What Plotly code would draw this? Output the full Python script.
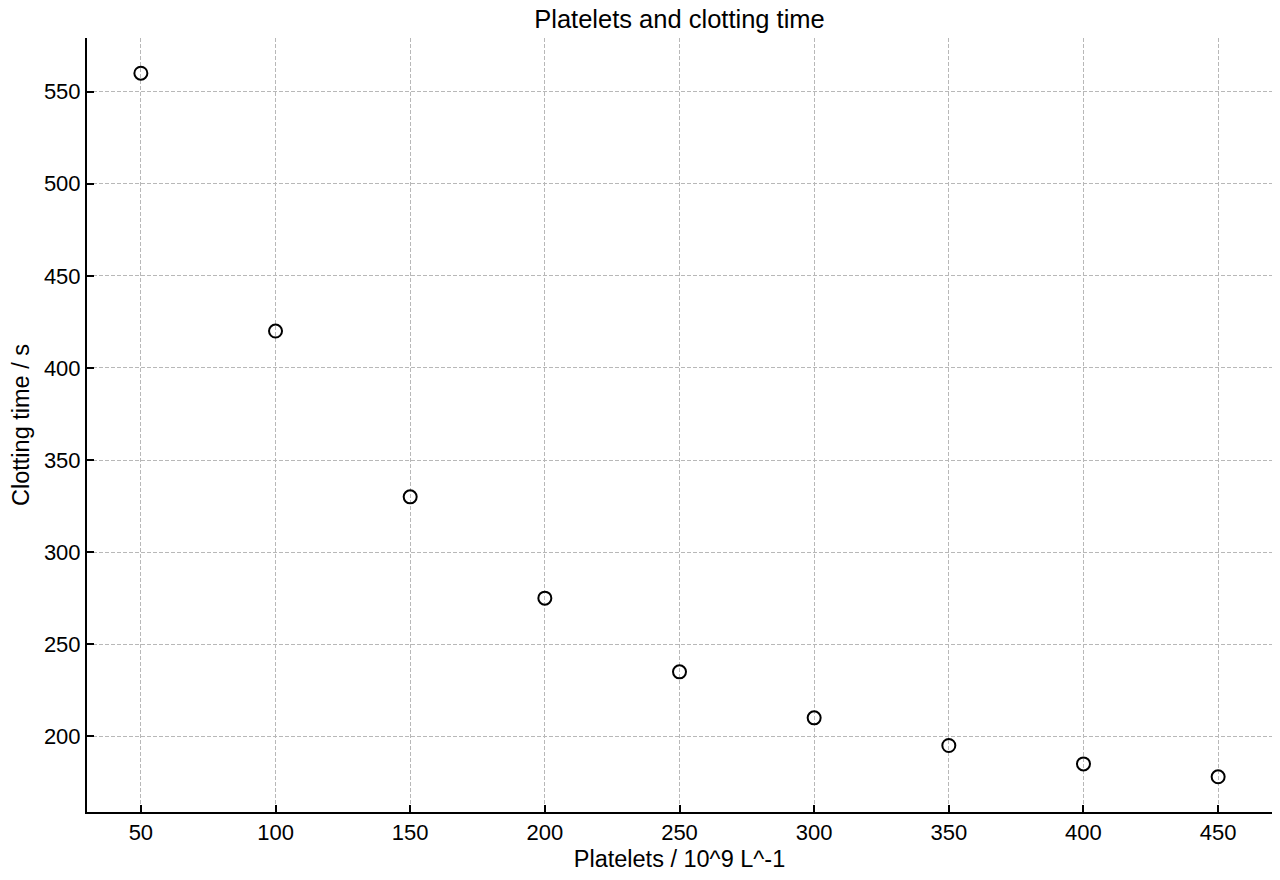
import plotly.graph_objects as go

platelets = [50, 100, 150, 200, 250, 300, 350, 400, 450]
clotting_time = [560, 420, 330, 275, 235, 210, 195, 185, 178]
x_ticks = [50, 100, 150, 200, 250, 300, 350, 400, 450]
y_ticks = [200, 250, 300, 350, 400, 450, 500, 550]

fig = go.Figure()
fig.add_trace(go.Scatter(
    x=platelets, y=clotting_time, mode='markers',
    marker=dict(symbol='circle-open', size=13, color='black', line=dict(width=2)),
    showlegend=False,
))

axis_style = dict(
    showline=True, linecolor='black', linewidth=2,
    ticks='inside', ticklen=7, tickwidth=2, tickcolor='black',
    showgrid=True, gridcolor='#b8b8b8', griddash='4px,2px', gridwidth=1,
    zeroline=False, tickfont=dict(size=22, color='black'),
    mirror=False,
)

fig.update_xaxes(range=[30, 470], tickvals=x_ticks,
                 title=dict(text='Platelets / 10^9 L^-1', font=dict(size=23.5, color='black'), standoff=6),
                 **axis_style)
fig.update_yaxes(range=[158.9, 579.1], tickvals=y_ticks,
                 title=dict(text='Clotting time / s', font=dict(size=23.5, color='black'), standoff=11),
                 **axis_style)

fig.update_layout(
    width=1264, height=864,
    margin=dict(l=79, r=0, t=30, b=60),
    plot_bgcolor='white', paper_bgcolor='white',
    font=dict(family='Liberation Sans, Arial, sans-serif', color='black'),
    title=dict(text='Platelets and clotting time', xref='paper', x=0.5, xanchor='center',
               yref='container', y=0.987, yanchor='middle', font=dict(size=25.5, color='black')),
)

fig.write_html("out.html")
